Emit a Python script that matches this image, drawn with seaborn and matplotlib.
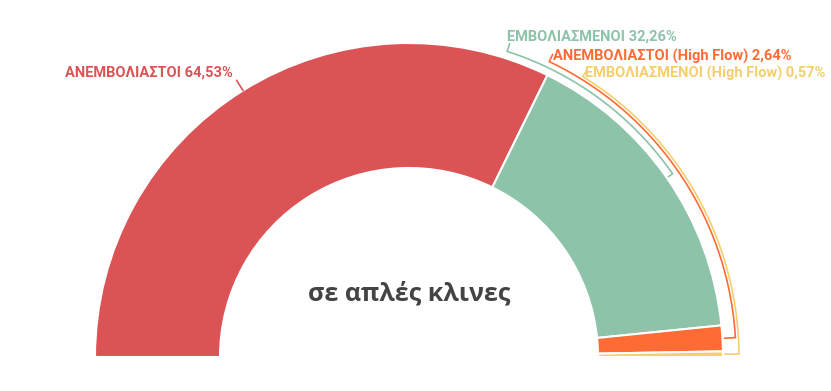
import numpy as np
import matplotlib.pyplot as plt
import seaborn as sns

# Datos
categorias = ['ΑΝΕΜΒΟΛΙΑΣΤΟΙ', 'ΕΜΒΟΛΙΑΣΜΕΝΟΙ',
              'ΑΝΕΜΒΟΛΙΑΣΤΟΙ (High Flow)', 'ΕΜΒΟΛΙΑΣΜΕΝΟΙ (High Flow)']
porcentajes = [64.53, 32.26, 2.64, 0.57]
etiquetas = ['64,53%', '32,26%', '2,64%', '0,57%']
titulo_centro = 'σε απλές κλινες'

colores = ['#DC5356', '#8DC3A8', '#FF6B35', '#F4CF6E']

sns.set_theme(style='white')
plt.rcParams['font.family'] = ['Roboto', 'DejaVu Sans']

W, H = 831, 391
fig = plt.figure(figsize=(W / 100, H / 100), dpi=100)
ax = fig.add_axes([0, 0, 1, 1])

cx, cy = 409, H - 357
R, r_in = 314, 189

# medio donut: se agrega un trozo invisible igual al total
valores = porcentajes + [sum(porcentajes)]
wedges, _ = ax.pie(valores, colors=colores + ['none'], startangle=180,
                   counterclock=False, radius=R, center=(cx, cy),
                   wedgeprops=dict(width=R - r_in, edgecolor='white', linewidth=1.5))
wedges[-1].set_edgecolor('none')

ax.set_xlim(0, W)
ax.set_ylim(0, H)
ax.set_aspect('equal')
ax.axis('off')

# angulos medios de cada porcion
total = sum(valores)
limites = 180 - np.cumsum([0] + porcentajes) / total * 360
medios = (limites[:-1] + limites[1:]) / 2


def punto(ang, rad):
    a = np.deg2rad(ang)
    return cx + rad * np.cos(a), cy + rad * np.sin(a)


# etiqueta principal (roja)
x0, y0 = punto(medios[0], R)
x1, y1 = punto(medios[0], R + 12)
ax.plot([x0, x1], [y0, y1], color=colores[0], lw=1.2)
ax.text(233, H - 73, f'{categorias[0]} {etiquetas[0]}', color=colores[0],
        fontsize=10.5, fontweight='bold', ha='right', va='center')

# corchetes para las porciones pequeñas
radios = [321, 327, 330]
inicios = [72.2, 64.6, 58.2]
pos_txt = [(507, 37), (553, 56), (585, 73)]
for i in range(1, 4):
    rb = radios[i - 1]
    angs = np.linspace(inicios[i - 1], medios[i], 200)
    xs, ys = punto(angs, rb)
    xa, ya = punto(inicios[i - 1], rb + 8)
    xe, ye = punto(medios[i], R + 2)
    xs = np.concatenate([[xa], xs, [xe]])
    ys = np.concatenate([[ya], ys, [ye]])
    ax.plot(xs, ys, color=colores[i], lw=1.2, solid_joinstyle='miter')
    tx, ty = pos_txt[i - 1]
    ax.text(tx, H - ty, f'{categorias[i]} {etiquetas[i]}', color=colores[i],
            fontsize=10.5, fontweight='bold', ha='left', va='center')

ax.text(cx, H - 294, titulo_centro, color='#444444', fontsize=18,
        fontweight='bold', ha='center', va='center',
        family=['Open Sans', 'DejaVu Sans'])

plt.savefig('out.png', dpi=100)
plt.close()
